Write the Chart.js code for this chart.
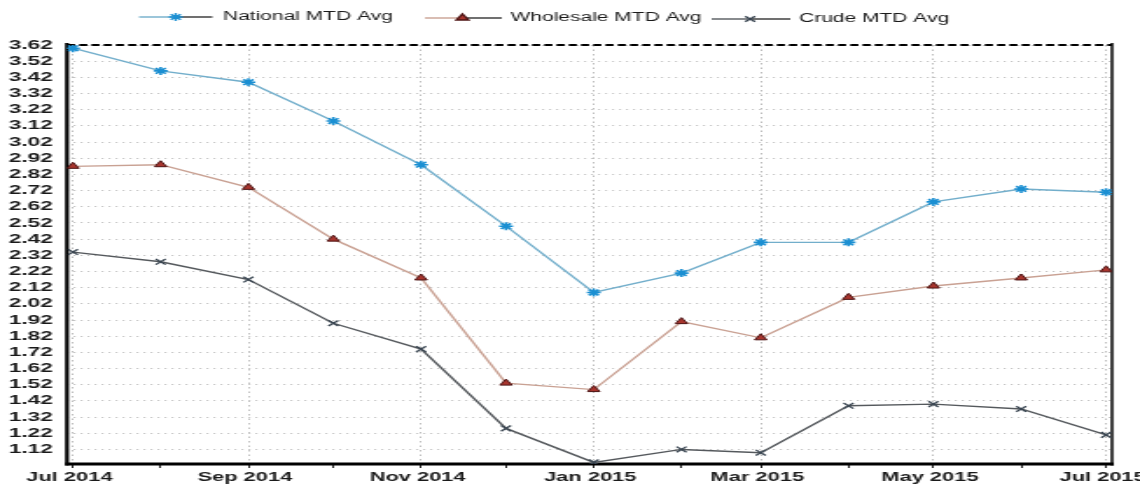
<!DOCTYPE html>
<html>
<head>
<meta charset="utf-8">
<script src="https://cdn.jsdelivr.net/npm/chart.js@4.4.1/dist/chart.umd.min.js"></script>
<style>
  html, body { margin: 0; padding: 0; background: #fff; overflow: hidden; }
  /* the chart is laid out narrow and widened horizontally for its wide-type look */
  #wrap { width: 652px; height: 491px; transform: scaleX(1.748466); transform-origin: 0 0; }
</style>
</head>
<body>
<div id="wrap"><canvas id="c" width="652" height="491"></canvas></div>
<script>
// Monthly averages, $/gal
const months = ['2014-07-01', '2014-08-01', '2014-09-01', '2014-10-01', '2014-11-01', '2014-12-01',
                '2015-01-01', '2015-02-01', '2015-03-01', '2015-04-01', '2015-05-01', '2015-06-01', '2015-07-01'];
const xTickLabels = ['Jul 2014', '', 'Sep 2014', '', 'Nov 2014', '', 'Jan 2015', '', 'Mar 2015', '', 'May 2015', '', 'Jul 2015'];
const yTicks = [1.12, 1.22, 1.32, 1.42, 1.52, 1.62, 1.72, 1.82, 1.92, 2.02, 2.12, 2.22, 2.32,
                2.42, 2.52, 2.62, 2.72, 2.82, 2.92, 3.02, 3.12, 3.22, 3.32, 3.42, 3.52, 3.62];
const nationalAvg  = [3.60, 3.46, 3.39, 3.15, 2.88, 2.50, 2.09, 2.21, 2.40, 2.40, 2.65, 2.73, 2.71];
const wholesaleAvg = [2.87, 2.88, 2.74, 2.42, 2.18, 1.53, 1.49, 1.91, 1.81, 2.06, 2.13, 2.18, 2.23];
const crudeAvg     = [2.34, 2.28, 2.17, 1.90, 1.74, 1.25, 1.04, 1.12, 1.10, 1.39, 1.40, 1.37, 1.21];

const FONT = "'Liberation Sans', Arial, sans-serif";
const DAY = 86400000;
const t0 = Date.parse(months[0]);
const monthDays = months.map(m => (Date.parse(m) - t0) / DAY);
const toPoints = vals => vals.map((v, i) => ({ x: monthDays[i], y: v }));

const series = [
  { label: 'National MTD Avg',  data: nationalAvg,  line: '#72aecb', mark: '#1b8fd2', fill: '#1b8fd2', style: 'star',     w: 1.6 },
  { label: 'Wholesale MTD Avg', data: wholesaleAvg, line: '#c9a193', mark: '#4d1414', fill: '#a8352e', style: 'triangle', w: 1 },
  { label: 'Crude MTD Avg',     data: crudeAvg,     line: '#55595d', mark: '#3a4652', fill: '#3a4652', style: 'crossRot', w: 1.3 }
];

// plot frame: dashed top edge, heavy left/bottom edges, right edge
const frame = {
  id: 'frame',
  beforeDatasetsDraw(chart) {
    const { ctx, chartArea: a } = chart;
    ctx.save();
    ctx.strokeStyle = '#000';
    ctx.lineWidth = 2;
    ctx.setLineDash([4.6, 2.4]);
    ctx.beginPath(); ctx.moveTo(a.left, a.top); ctx.lineTo(a.right, a.top); ctx.stroke();
    ctx.setLineDash([]);
    ctx.lineWidth = 2.2;
    ctx.beginPath(); ctx.moveTo(a.left, a.top - 2); ctx.lineTo(a.left, a.bottom + 1.5); ctx.stroke();
    ctx.lineWidth = 1.5;
    ctx.beginPath(); ctx.moveTo(a.right, a.top - 2); ctx.lineTo(a.right, a.bottom + 1.5); ctx.stroke();
    ctx.lineWidth = 3;
    ctx.beginPath(); ctx.moveTo(a.left - 1, a.bottom); ctx.lineTo(a.right + 1, a.bottom); ctx.stroke();
    ctx.restore();
  }
};

// legend row: line sample with marker, then the series name
const legendRow = {
  id: 'legendRow',
  afterDraw(chart) {
    const ctx = chart.ctx;
    const items = [
      { x0: 79.5, x1: 121.5, mx: 100.5, tx: 127.5, y: 17 },
      { x0: 243,  x1: 287,   mx: 264.5, tx: 292,   y: 18 },
      { x0: 407,  x1: 452,   mx: 429,   tx: 457,   y: 19 }
    ];
    ctx.save();
    items.forEach((it, i) => {
      const s = series[i];
      ctx.lineWidth = 1.4;
      ctx.strokeStyle = s.line;
      ctx.beginPath(); ctx.moveTo(it.x0, it.y); ctx.lineTo(it.mx, it.y); ctx.stroke();
      ctx.strokeStyle = '#333';
      ctx.beginPath(); ctx.moveTo(it.mx, it.y); ctx.lineTo(it.x1, it.y); ctx.stroke();
      ctx.fillStyle = s.fill;
      ctx.strokeStyle = s.mark;
      Chart.helpers.drawPoint(ctx, { pointStyle: s.style, radius: 4, rotation: 0, borderWidth: s.w }, it.mx, it.y);
      ctx.fillStyle = '#1a1a1a';
      ctx.font = '12px ' + FONT;
      ctx.textBaseline = 'middle';
      ctx.textAlign = 'left';
      ctx.fillText(s.label, it.tx, it.y);
    });
    ctx.restore();
  }
};

new Chart(document.getElementById('c'), {
  type: 'line',
  data: {
    datasets: series.map(s => ({
      label: s.label,
      data: toPoints(s.data),
      borderColor: s.line,
      borderWidth: 1.4,
      tension: 0,
      pointStyle: s.style,
      pointRadius: 4,
      pointBorderColor: s.mark,
      pointBackgroundColor: s.fill,
      pointBorderWidth: s.w
    }))
  },
  options: {
    responsive: false,
    devicePixelRatio: 1,
    animation: false,
    layout: { padding: { left: 0, top: 45, right: 16, bottom: 0 } },
    plugins: { legend: { display: false }, tooltip: { enabled: false } },
    scales: {
      x: {
        type: 'linear',
        min: -2.1,
        max: 367.1,
        afterBuildTicks(s) { s.ticks = monthDays.map(v => ({ value: v })); },
        afterFit(s) { s.height = 27; s.paddingLeft = 0; s.paddingRight = 0; },
        border: { display: false, dash: [1.5, 3] },
        grid: {
          color: c => (xTickLabels[c.index] ? '#bdbdbd' : 'rgba(0,0,0,0)'),
          lineWidth: 1,
          drawTicks: true,
          tickLength: 4,
          tickColor: '#222',
          tickBorderDash: [],
          tickWidth: 1
        },
        ticks: {
          autoSkip: false,
          maxRotation: 0,
          padding: 2,
          labelOffset: -2,
          color: '#1a1a1a',
          font: { family: FONT, size: 12.5, weight: 'bold' },
          callback: (v, i) => xTickLabels[i]
        }
      },
      y: {
        min: 1.03,
        max: 3.62,
        afterBuildTicks(s) { s.ticks = yTicks.map(v => ({ value: v })); },
        afterFit(s) { s.width = 38.3; s.paddingTop = 0; s.paddingBottom = 0; },
        border: { display: false, dash: [1.2, 2.8] },
        grid: { color: '#c6c6c6', lineWidth: 1, drawTicks: false },
        ticks: {
          autoSkip: false,
          padding: 8,
          color: '#1a1a1a',
          font: { family: FONT, size: 13, weight: 'bold' },
          callback: (v, i) => yTicks[i].toFixed(2)
        }
      }
    }
  },
  plugins: [frame, legendRow]
});
</script>
</body>
</html>
